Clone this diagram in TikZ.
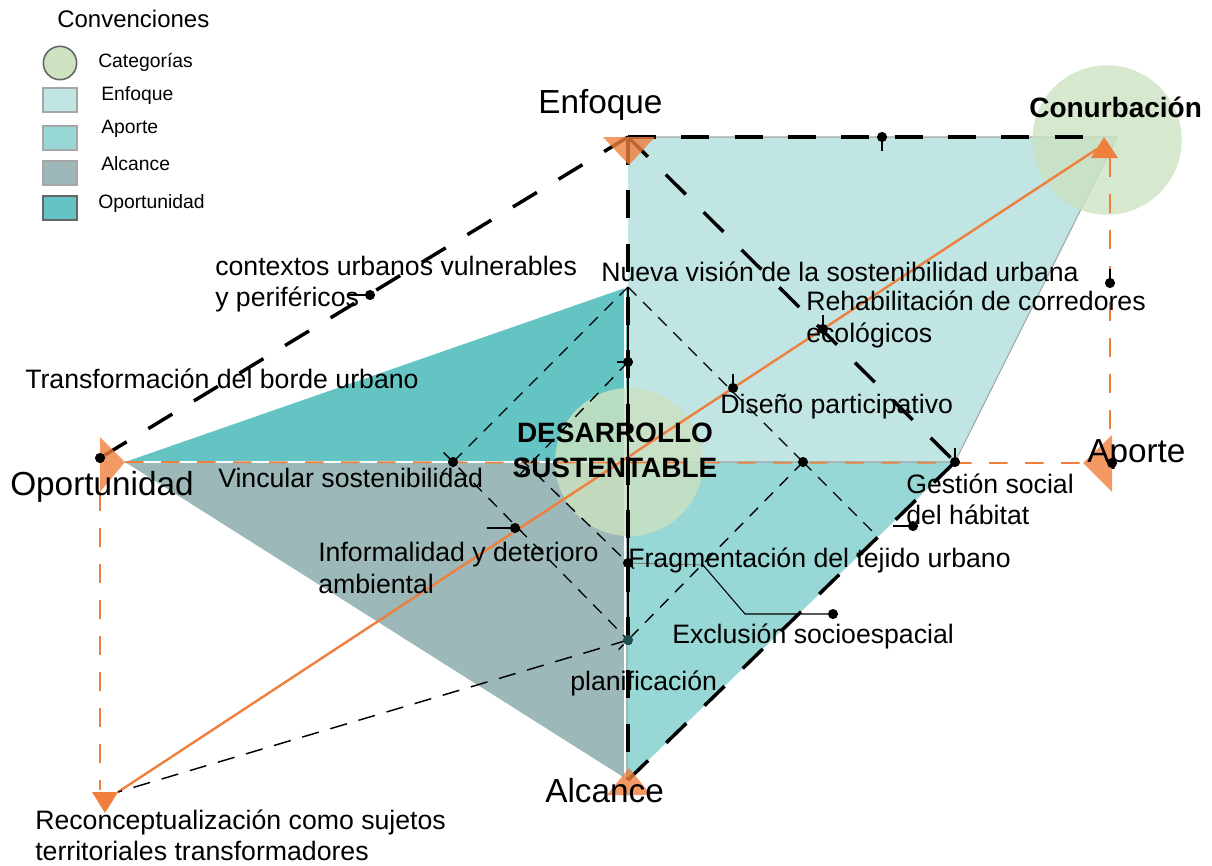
\documentclass[tikz,border=0pt]{standalone}
\usepackage{fontspec}
\setmainfont{Liberation Sans}
\usepackage{tikz}

\definecolor{enfoquec}{HTML}{C1E5E3}
\definecolor{aportec}{HTML}{97D7D5}
\definecolor{alcancec}{HTML}{9CB8B8}
\definecolor{oportc}{HTML}{63C4C3}
\definecolor{categc}{HTML}{CCE2C0}
\definecolor{naranja}{HTML}{EF7F3D}
\definecolor{puntoazul}{HTML}{1E4F52}

\begin{document}
\begin{tikzpicture}[x=0.75pt,y=-0.75pt,
  gruesa/.style={black, line width=2.6pt, dash pattern=on 21pt off 19pt},
  fina/.style={black, line width=1pt, dash pattern=on 9pt off 7pt},
  naranjad/.style={naranja, line width=1.3pt, dash pattern=on 14pt off 13pt},
  marca/.style={naranja, opacity=0.8},
  etiq/.style={anchor=base west, inner sep=0pt, font=\fontsize{20}{24}\selectfont},
  grande/.style={anchor=base west, inner sep=0pt, font=\fontsize{25}{30}\selectfont},
  leyenda/.style={anchor=base west, inner sep=0pt, font=\fontsize{14.5}{17}\selectfont},
  caja/.style={draw=gray!70, line width=1.2pt}]

\useasboundingbox (0,0) rectangle (1212,865);

\coordinate (enf) at (628,137);
\coordinate (conu) at (1104,137);
\coordinate (esq) at (1117,137);
\coordinate (apo) at (1112,463);
\coordinate (alc) at (628,780);
\coordinate (opo) at (100,458);
\coordinate (pun) at (125,462);
\coordinate (rec) at (105,792);
\coordinate (nv) at (628,287);
\coordinate (vin) at (453,462);
\coordinate (der) at (803,462);
\coordinate (cen) at (628,462);
\coordinate (pla) at (628,640);
\coordinate (ges) at (955,462);
\coordinate (pc) at (628,362);
\coordinate (iz) at (528,466);
\coordinate (fra) at (628,563);
\coordinate (inf) at (515,528);
\coordinate (dis) at (733,388);
\coordinate (reh) at (823,329);
\coordinate (arr) at (882,137);
\coordinate (lat) at (1110,283);
\coordinate (hab) at (913,526);
\coordinate (exc) at (833,614);
\coordinate (ctx) at (370,295);

% areas
\fill[enfoquec] (enf) -- (esq) -- (ges) -- (cen) -- cycle;
\fill[aportec] (cen) -- (ges) -- (alc) -- cycle;
\fill[alcancec] (pun) -- (cen) -- (alc) -- cycle;
\fill[oportc] (pun) -- (nv) -- (cen) -- cycle;
\draw[gray!70, line width=0.8pt] (enf) -- (esq) -- (ges) -- (cen);
\draw[white, line width=1.5pt] (pun) -- (cen);
\draw[white, line width=1.5pt] (625,287) -- (625,778);

% categorias
\fill[categc, opacity=0.8] (629,462) circle[radius=55.5pt];
\fill[categc, opacity=0.8] (1107,140) circle[radius=56pt];

% ejes naranja
\draw[naranjad] (pun) -- (1083,463);
\draw[naranjad] (1110,158) -- (1110,435);
\draw[naranjad] (100,492) -- (100,790);
\draw[naranja, line width=1.8pt] (118,792) -- (1097,149);

% lineas gruesas
\draw[gruesa] (enf) -- (conu);
\draw[gruesa] (enf) -- (alc);
\draw[gruesa] (enf) -- (ges);
\draw[gruesa] (enf) -- (opo);
\draw[gruesa] (alc) -- (ges);
\draw[black, line width=1.5pt] (nv) -- (pla);

% lineas finas
\draw[fina, shorten >=-12pt] (nv) -- (vin);
\draw[fina] (nv) -- (der);
\draw[fina, shorten <=-10pt, shorten >=-10pt] (vin) -- (pla);
\draw[fina, shorten >=-10pt] (der) -- (pla);
\draw[fina, shorten >=-8pt] (pc) -- (iz);
\draw[fina, shorten <=-8pt, shorten >=-6pt] (iz) -- (fra);
\draw[fina] (der) -- (878,537);
\draw[black, line width=1.1pt, dash pattern=on 13pt off 9pt] (pla) -- (118,792);
\draw[gray, line width=0.7pt] (fra) -- (703,565);
\draw[black, line width=0.8pt] (703,565) -- (745,614) -- (exc);
\draw[black, line width=0.8pt] (893,526) -- (hab);

% marcas
\fill[marca] (603,137) -- (655,137) -- (629,165) -- cycle;
\fill[marca] (629,768) -- (607,795) -- (651,795) -- cycle;
\fill[marca] (100,437) -- (100,492) -- (125,462) -- cycle;
\fill[marca] (1112,435) -- (1112,492) -- (1083,463) -- cycle;
\fill[naranja] (1104,137) -- (1091,158) -- (1118,158) -- cycle;
\fill[naranja] (92,792) -- (118,792) -- (105,813) -- cycle;

% puntos
\foreach \p in {opo,ctx,vin,pc,inf,fra,dis,reh,arr,lat,der,ges,hab,exc,apo}
  \fill[black] (\p) circle[radius=3.8pt];
\fill[puntoazul] (pla) circle[radius=3.8pt];
\draw[black, line width=0.8pt] (ctx) -- +(-23,0);
\draw[black, line width=0.8pt] (pc) -- +(-11,0);
\draw[black, line width=0.8pt] (inf) -- +(-28,0);
\draw[black, line width=0.8pt] (dis) -- +(0,-14);
\draw[black, line width=0.8pt] (reh) -- +(0,-14);
\draw[black, line width=0.8pt] (arr) -- +(0,14);
\draw[black, line width=0.8pt] (lat) -- +(0,-14);
\draw[black, line width=0.8pt] (ges) -- +(0,-14);

% textos
\node[grande] (tenf) at (538,113) {Enfoque};
\node[grande, font=\fontsize{21}{25}\selectfont\bfseries] (tconu) at (1029,117) {Conurbación};
\node[grande] (topo) at (10,495) {Oportunidad};
\node[grande] (tapo) at (1087,462) {Aporte};
\node[grande] (talc) at (545,802) {Alcance};

\node[etiq] (tctx1) at (215,275) {contextos urbanos vulnerables};
\node[etiq] (tctx2) at (215,306) {y periféricos};
\node[etiq] (ttra) at (25,388) {Transformación del borde urbano};
\node[etiq] (tnv) at (601,281) {Nueva visión de la sostenibilidad urbana};
\node[etiq] (treh1) at (806,310) {Rehabilitación de corredores};
\node[etiq] (treh2) at (806,342) {ecológicos};
\node[etiq] (tdis) at (720,413) {Diseño participativo};
\node[etiq] (tvin) at (218,487) {Vincular sostenibilidad};
\node[etiq] (tges1) at (906,493) {Gestión social};
\node[etiq] (tges2) at (906,524) {del hábitat};
\node[etiq] (tinf1) at (318,561) {Informalidad y deterioro};
\node[etiq] (tinf2) at (318,593) {ambiental};
\node[etiq] (tfra) at (628,567) {Fragmentación del tejido urbano};
\node[etiq] (texc) at (672,643) {Exclusión socioespacial};
\node[etiq] (tpla) at (570,690) {planificación};
\node[etiq] (trec1) at (35,829) {Reconceptualización como sujetos};
\node[etiq] (trec2) at (35,860) {territoriales transformadores};
\node[anchor=base, inner sep=0pt, font=\fontsize{21}{25}\selectfont\bfseries] (tdes1) at (615,442) {DESARROLLO};
\node[anchor=base, inner sep=0pt, font=\fontsize{21}{25}\selectfont\bfseries] (tdes2) at (615,477) {SUSTENTABLE};

% convenciones
\node[anchor=base west, inner sep=0pt, font=\fontsize{18}{22}\selectfont] (tcon) at (57,27) {Convenciones};
\filldraw[fill=categc, draw=gray!80!black, line width=1.2pt] (60,63) circle[radius=12.5pt];
\filldraw[fill=enfoquec, caja] (43,88) rectangle (77,112);
\filldraw[fill=aportec, caja] (43,126) rectangle (77,150);
\filldraw[fill=alcancec, caja] (43,161) rectangle (77,185);
\filldraw[fill=oportc, draw=gray!80!black, line width=1.2pt] (43,196) rectangle (77,220);
\node[leyenda] (lcat) at (98,67) {Categorías};
\node[leyenda] (lenf) at (101,100) {Enfoque};
\node[leyenda] (lapo) at (101,133) {Aporte};
\node[leyenda] (lalc) at (101,170) {Alcance};
\node[leyenda] (lopo) at (98,208) {Oportunidad};

\end{tikzpicture}
\end{document}
